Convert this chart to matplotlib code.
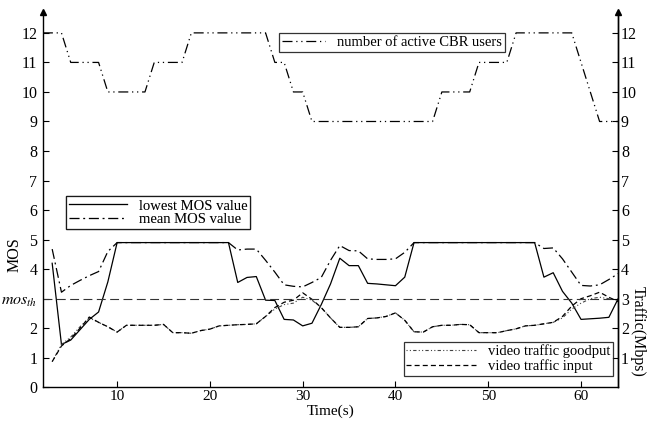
import matplotlib
matplotlib.use("Agg")
import matplotlib.pyplot as plt
import numpy as np

plt.rcParams['font.family'] = ['Liberation Serif', 'DejaVu Serif']
plt.rcParams['mathtext.fontset'] = 'stix'

# ---- data ----
time = list(range(3, 65))
lowest_mos = [4.2, 1.45, 1.6, 1.95, 2.3, 2.55, 3.57,
              4.9, 4.9, 4.9, 4.9, 4.9, 4.9, 4.9, 4.9, 4.9, 4.9, 4.9, 4.9, 4.9,
              3.55, 3.72, 3.75, 2.95, 2.94, 2.3, 2.28, 2.08, 2.17, 2.8, 3.5,
              4.37, 4.12, 4.12, 3.52, 3.5, 3.47, 3.44, 3.73,
              4.9, 4.9, 4.9, 4.9, 4.9, 4.9, 4.9, 4.9, 4.9, 4.9, 4.9, 4.9, 4.9, 4.9,
              3.73, 3.88, 3.25, 2.85, 2.3, 2.32, 2.34, 2.37, 3.0]
mean_mos = [4.68, 3.22, 3.45, 3.62, 3.78, 3.92, 4.6,
            4.9, 4.9, 4.9, 4.9, 4.9, 4.9, 4.9, 4.9, 4.9, 4.9, 4.9, 4.9, 4.9,
            4.65, 4.68, 4.68, 4.3, 3.9, 3.47, 3.42, 3.4, 3.55, 3.72, 4.3,
            4.8, 4.63, 4.62, 4.35, 4.33, 4.33, 4.35, 4.57,
            4.9, 4.9, 4.9, 4.9, 4.9, 4.9, 4.9, 4.9, 4.9, 4.9, 4.9, 4.9, 4.9, 4.9,
            4.7, 4.72, 4.35, 3.9, 3.45, 3.43, 3.47, 3.65, 3.85]
video_input = [0.87, 1.4, 1.65, 2.0, 2.38, 2.2, 2.05, 1.87, 2.1, 2.1, 2.1, 2.1, 2.13,
               1.85, 1.85, 1.83, 1.92, 1.97, 2.08, 2.1, 2.12, 2.13, 2.15, 2.4, 2.7,
               2.88, 2.95, 3.2, 2.98, 2.7, 2.35, 2.03, 2.03, 2.05, 2.33, 2.35, 2.4,
               2.52, 2.27, 1.88, 1.87, 2.05, 2.1, 2.1, 2.13, 2.12, 1.85, 1.85, 1.85,
               1.92, 1.98, 2.08, 2.1, 2.15, 2.2, 2.4, 2.75, 3.0, 3.1, 3.22, 3.05, 2.9]
video_goodput = [0.87, 1.45, 1.7, 2.05, 2.35, 2.2, 2.05, 1.87, 2.1, 2.1, 2.1, 2.1, 2.13,
                 1.85, 1.85, 1.83, 1.92, 1.97, 2.08, 2.1, 2.12, 2.13, 2.15, 2.4, 2.65,
                 2.8, 2.85, 3.05, 2.95, 2.7, 2.35, 2.03, 2.03, 2.05, 2.33, 2.35, 2.4,
                 2.52, 2.27, 1.88, 1.87, 2.05, 2.1, 2.1, 2.13, 2.12, 1.85, 1.85, 1.85,
                 1.92, 1.98, 2.08, 2.1, 2.15, 2.2, 2.35, 2.65, 2.85, 3.0, 3.05, 3.0, 2.95]
cbr_time = [2, 4, 5, 8, 9, 13, 14, 17, 18, 26, 27, 28, 29, 30, 31, 44, 45, 48, 49, 52, 53, 59, 62, 64]
cbr_users = [12, 12, 11, 11, 10, 10, 11, 11, 12, 12, 11, 11, 10, 10, 9, 9, 10, 10, 11, 11, 12, 12, 9, 9]
mos_threshold = 3
xticks = [10, 20, 30, 40, 50, 60]
left_ticks = list(range(0, 13))
left_labels = ['0', '1', '2', r'$mos_{th}$'] + [str(v) for v in range(4, 13)]
right_ticks = list(range(1, 13))
right_labels = [str(v) for v in right_ticks]

fs = 11.5
lfs = 10.5

fig = plt.figure(figsize=(6.5, 4.21), dpi=100)
ax = fig.add_axes([0.066, 0.08, 0.885, 0.891])
ax.set_xlim(2, 64)
ax.set_ylim(0, 12.7)

lw = 0.9
l_cbr, = ax.plot(cbr_time, cbr_users, color='black', lw=lw, dashes=(8, 3, 1, 3, 1, 3))
l_low, = ax.plot(time, lowest_mos, color='black', lw=lw, linestyle='-')
l_mean, = ax.plot(time, mean_mos, color='black', lw=lw, dashes=(8, 3, 1.5, 3))
l_good, = ax.plot(time, video_goodput, color='#444444', lw=0.8, dashes=(1, 2, 1, 2, 3, 2))
l_in, = ax.plot(time, video_input, color='black', lw=lw, dashes=(4, 2.5))
ax.axhline(mos_threshold, color='#333333', lw=0.8, dashes=(8, 4))

ax.spines['top'].set_visible(False)
for s in ['left', 'right', 'bottom']:
    ax.spines[s].set_linewidth(1.0)

ax.set_xticks(xticks)
ax.set_xticklabels([str(v) for v in xticks], fontsize=11)
ax.set_yticks(left_ticks)
ax.set_yticklabels(left_labels, fontsize=fs)
ax.tick_params(axis='both', direction='in', length=4, width=0.8)
ax.tick_params(axis='y', pad=4)
ax.tick_params(axis='x', pad=2)

ax2 = ax.twinx()
ax2.set_ylim(0, 12.7)
ax2.set_yticks(right_ticks)
ax2.set_yticklabels(right_labels, fontsize=fs)
ax2.tick_params(axis='y', direction='in', length=4, width=0.8, pad=2)
for s in ['top', 'left', 'bottom']:
    ax2.spines[s].set_visible(False)
ax2.spines['right'].set_linewidth(1.0)

ax.set_xlabel('Time(s)', fontsize=11)
ax.xaxis.set_label_coords(0.5, -0.045)
ax.set_ylabel('MOS', fontsize=fs)
ax.yaxis.set_label_coords(-0.036, 0.355)
ax2.set_ylabel('Traffic(Mbps)', fontsize=fs, rotation=-90)
ax2.yaxis.set_label_coords(1.048, 0.15)

# arrows at top of vertical axes
ax.plot([0, 1], [1.0, 1.0], transform=ax.transAxes, marker='^', color='black',
        markersize=5, linestyle='none', clip_on=False)

leg1 = ax.legend([l_cbr], ['number of active CBR users'], loc='upper left',
                 bbox_to_anchor=(0.41, 0.944), fontsize=lfs, frameon=True, fancybox=False,
                 edgecolor='black', borderpad=0.2, handlelength=3, borderaxespad=0)
leg1.get_frame().set_linewidth(0.9)
ax.add_artist(leg1)
leg2 = ax.legend([l_low, l_mean], ['lowest MOS value', 'mean MOS value'], loc='upper left',
                 bbox_to_anchor=(0.04, 0.509), fontsize=lfs, frameon=True, fancybox=False,
                 edgecolor='black', borderpad=0.2, handlelength=4.0, labelspacing=0.05,
                 borderaxespad=0)
leg2.get_frame().set_linewidth(0.9)
ax.add_artist(leg2)
leg3 = ax2.legend([l_good, l_in], ['video traffic goodput', 'video traffic input'],
                  loc='upper left', bbox_to_anchor=(0.627, 0.122), fontsize=lfs, frameon=True,
                  fancybox=False, edgecolor='black', borderpad=0.2, handlelength=4.8,
                  labelspacing=0.05, borderaxespad=0)
leg3.get_frame().set_linewidth(0.9)

fig.savefig('out.png', dpi=100)
